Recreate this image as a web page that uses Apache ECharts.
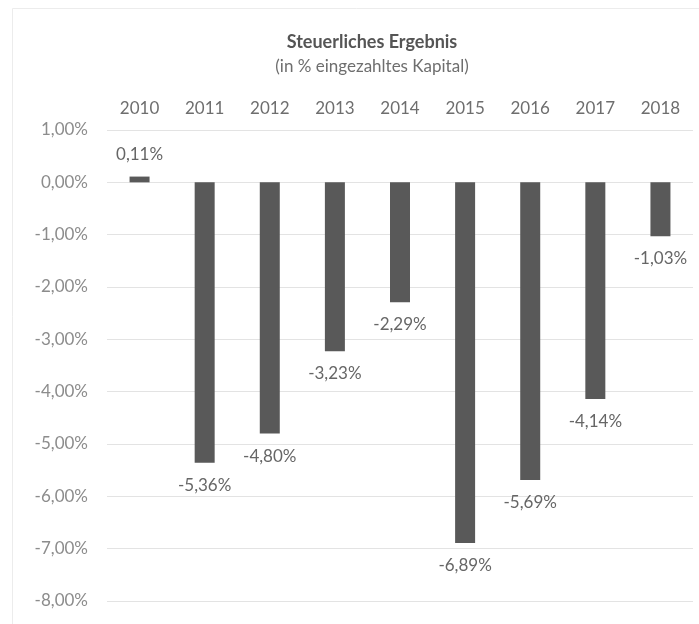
<!DOCTYPE html>
<html>
<head>
<meta charset="utf-8">
<script src="https://cdn.jsdelivr.net/npm/echarts@6/dist/echarts.min.js"></script>
<style>
html, body { margin: 0; padding: 0; background: #fff; }
#chart { width: 699px; height: 624px; }
</style>
</head>
<body>
<div id="chart"></div>
<script>
// Jahre und steuerliches Ergebnis (in %)
const years = ['2010', '2011', '2012', '2013', '2014', '2015', '2016', '2017', '2018'];
const ergebnis = [0.11, -5.36, -4.80, -3.23, -2.29, -6.89, -5.69, -4.14, -1.03];
const yMin = -8;
const yMax = 1;

function pct(v) {
  return v.toFixed(2).replace('.', ',') + '%';
}

const chart = echarts.init(document.getElementById('chart'));

const option = {
  backgroundColor: '#fff',
  textStyle: { fontFamily: 'Lato' },
  title: {
    text: 'Steuerliches Ergebnis',
    subtext: '(in % eingezahltes Kapital)',
    left: 367,
    top: 28,
    textAlign: 'center',
    itemGap: 7,
    textStyle: { fontFamily: 'Lato', fontSize: 18, fontWeight: 'bold', color: '#555' },
    subtextStyle: { fontFamily: 'Lato', fontSize: 17, color: '#6e6e6e' }
  },
  graphic: [{
    type: 'rect',
    shape: { x: 12.5, y: 8.5, width: 700, height: 640 },
    style: { fill: 'none', stroke: '#ececec', lineWidth: 1 },
    silent: true
  }],
  grid: { left: 107, right: 6, top: 130, bottom: 23 },
  xAxis: {
    type: 'category',
    position: 'top',
    data: years,
    axisLine: { show: false },
    axisTick: { show: false },
    axisLabel: { margin: 13, fontSize: 17, color: '#6e6e6e' }
  },
  yAxis: {
    type: 'value',
    min: yMin,
    max: yMax,
    interval: 1,
    axisLine: { show: false },
    axisTick: { show: false },
    splitLine: { lineStyle: { color: '#e3e3e3', width: 1 } },
    axisLabel: { margin: 19, fontSize: 17, color: '#8c8c8c', formatter: pct }
  },
  series: [{
    type: 'bar',
    data: ergebnis,
    barWidth: 20,
    itemStyle: { color: '#595959' },
    label: {
      show: true,
      position: 'outside',
      distance: 14,
      fontSize: 17,
      color: '#666',
      formatter: p => pct(p.value)
    }
  }]
};

chart.setOption(option);
</script>
</body>
</html>
